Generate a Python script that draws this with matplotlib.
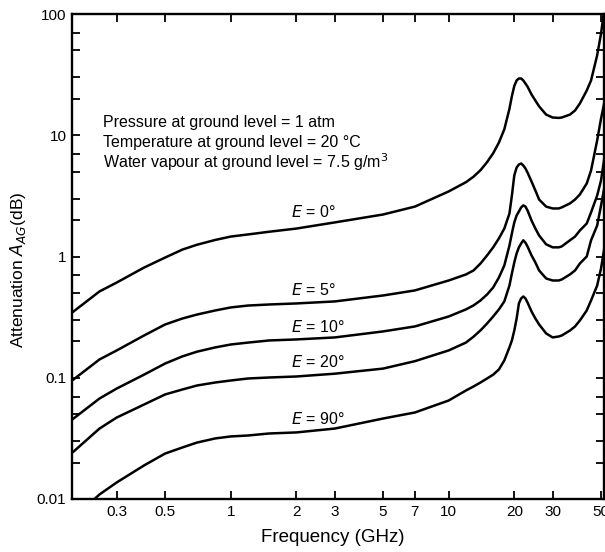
import numpy as np
import matplotlib.pyplot as plt
import matplotlib.ticker as mticker

plt.rcParams['font.family'] = ['Liberation Sans', 'DejaVu Sans']

# frequency grid (GHz)
freq = [0.19, 0.25, 0.3, 0.4, 0.5, 0.6, 0.7, 0.85, 1, 1.2, 1.5, 2, 3, 5, 7, 10,
        12, 13, 14, 15, 16, 17, 18, 19, 19.5, 20, 20.5, 21, 21.5, 22, 22.5, 23,
        24, 25, 26, 28, 30, 32, 33, 36, 38, 40, 43, 45, 48, 50, 52]

# attenuation A_AG (dB) for each elevation angle
att_e0 = [0.352, 0.515, 0.61, 0.81, 0.98, 1.14, 1.25, 1.37, 1.46, 1.52, 1.60, 1.70,
          1.91, 2.22, 2.58, 3.44, 4.10, 4.55, 5.15, 6.0, 7.1, 8.7, 11.2, 16.5,
          21.0, 25.5, 28.3, 29.4, 29.4, 28.3, 26.7, 25.2, 21.7, 19.3, 17.3, 14.8,
          14.0, 13.9, 14.0, 14.8, 16.0, 18.3, 23.4, 28.3, 45.6, 68.8, 117]
att_e5 = [0.0968, 0.1415, 0.168, 0.223, 0.275, 0.308, 0.332, 0.359, 0.380, 0.394,
          0.402, 0.41, 0.426, 0.477, 0.525, 0.634, 0.711, 0.767, 0.876, 1.02, 1.19,
          1.41, 1.70, 2.26, 3.18, 4.66, 5.42, 5.74, 5.85, 5.63, 5.32, 4.93, 4.15,
          3.50, 2.95, 2.58, 2.49, 2.49, 2.54, 2.74, 2.95, 3.25, 4.0, 5.12, 9.05,
          13.7, 19.3]
att_e10 = [0.0461, 0.0674, 0.0815, 0.106, 0.131, 0.150, 0.164, 0.178, 0.188, 0.195,
           0.203, 0.207, 0.215, 0.241, 0.265, 0.320, 0.366, 0.395, 0.434, 0.486,
           0.555, 0.671, 0.843, 1.23, 1.55, 1.91, 2.18, 2.35, 2.54, 2.64, 2.58, 2.40,
           1.98, 1.70, 1.49, 1.26, 1.19, 1.19, 1.21, 1.36, 1.46, 1.64, 1.87, 2.31,
           3.18, 4.24, 6.81]
att_e20 = [0.0246, 0.0381, 0.047, 0.0601, 0.0728, 0.080, 0.0863, 0.0914, 0.0949,
           0.0986, 0.1005, 0.1024, 0.108, 0.119, 0.137, 0.168, 0.195, 0.218, 0.246,
           0.280, 0.320, 0.366, 0.426, 0.576, 0.724, 0.892, 1.06, 1.19, 1.28, 1.36,
           1.30, 1.21, 1.02, 0.892, 0.767, 0.659, 0.634, 0.634, 0.646, 0.711, 0.767,
           0.876, 1.0, 1.36, 1.80, 2.63, 3.85]
att_e90 = [0.0070, 0.0109, 0.0137, 0.0189, 0.0237, 0.0266, 0.0292, 0.0316, 0.0328,
           0.0334, 0.0347, 0.0354, 0.0381, 0.0461, 0.0517, 0.0649, 0.0785, 0.0847,
           0.0914, 0.0986, 0.106, 0.117, 0.139, 0.178, 0.203, 0.245, 0.308, 0.410,
           0.451, 0.468, 0.451, 0.418, 0.352, 0.308, 0.275, 0.232, 0.215, 0.219,
           0.223, 0.245, 0.265, 0.297, 0.359, 0.434, 0.576, 0.796, 1.23]

curves = [att_e0, att_e5, att_e10, att_e20, att_e90]
curve_labels = ['0', '5', '10', '20', '90']
label_pos = [(1.9, 2.35), (1.9, 0.525), (1.9, 0.26), (1.9, 0.134), (1.9, 0.046)]

xticks = [0.3, 0.5, 1, 2, 3, 5, 7, 10, 20, 30, 50]
xtick_labels = ['0.3', '0.5', '1', '2', '3', '5', '7', '10', '20', '30', '50']
yticks = [0.01, 0.1, 1, 10, 100]
ytick_labels = ['0.01', '0.1', '1', '10', '100']

fig = plt.figure(figsize=(6.05, 5.52), dpi=100)
ax = fig.add_axes([72 / 605, 1 - 499 / 552, 532 / 605, 485 / 552])

for att in curves:
    ax.plot(freq, att, color='black', linewidth=1.8)

ax.set_xscale('log')
ax.set_yscale('log')
ax.set_xlim(0.187, 51.6)
ax.set_ylim(0.01, 100)

ax.xaxis.set_major_locator(mticker.FixedLocator(xticks))
ax.xaxis.set_major_formatter(mticker.FixedFormatter(xtick_labels))
ax.xaxis.set_minor_locator(mticker.NullLocator())
ax.yaxis.set_major_locator(mticker.FixedLocator(yticks))
ax.yaxis.set_major_formatter(mticker.FixedFormatter(ytick_labels))
ax.yaxis.set_minor_locator(mticker.LogLocator(base=10, subs=[2, 3, 5, 7]))
ax.yaxis.set_minor_formatter(mticker.NullFormatter())

ax.tick_params(which='both', direction='in', top=True, right=True, width=1.3,
               labelsize=11, pad=4)
ax.tick_params(which='both', length=6)
for s in ax.spines.values():
    s.set_linewidth(1.7)

for lab, (fx, fy) in zip(curve_labels, label_pos):
    ax.text(fx, fy, '$E$ = ' + lab + '°', fontsize=11.5, ha='left', va='center')

info = ['Pressure at ground level = 1 atm',
        'Temperature at ground level = 20 °C',
        'Water vapour at ground level = 7.5 g/m$^3$']
for i, line in enumerate(info):
    fig.text(103 / 605, 1 - (123 + 19.5 * i) / 552, line, fontsize=11.5,
             ha='left', va='center')

fig.text(18 / 605, 1 - 270 / 552, 'Attenuation $A_{AG}$(dB)', fontsize=12.5,
         rotation=90, ha='center', va='center')
fig.text(333 / 605, 1 - 538 / 552, 'Frequency (GHz)', fontsize=13.5,
         ha='center', va='center')

fig.savefig('out.png', dpi=100)
